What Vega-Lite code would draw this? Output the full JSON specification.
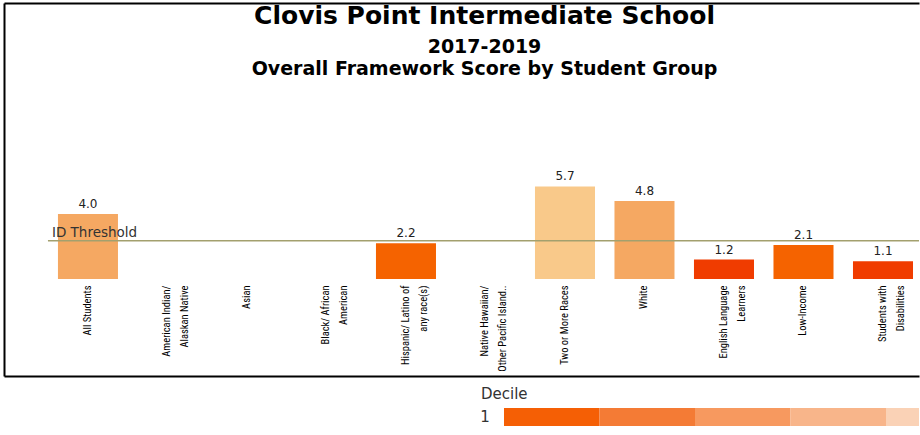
{
  "$schema": "https://vega.github.io/schema/vega-lite/v6.json",
  "padding": {"left": 4, "top": 3, "right": 0, "bottom": 0},
  "spacing": 11,
  "resolve": {"scale": {"color": "independent"}},
  "config": {
    "view": {"stroke": null},
    "font": "DejaVu Sans"
  },
  "vconcat": [
    {
      "width": 915,
      "height": 373,
      "title": {
        "text": "Clovis Point Intermediate School",
        "subtitle": ["2017-2019", "Overall Framework Score by Student Group"],
        "anchor": "middle",
        "frame": "group",
        "dx": 23,
        "offset": -76,
        "font": "DejaVu Sans",
        "fontSize": 25,
        "fontWeight": "bold",
        "color": "#000000",
        "subtitleFont": "DejaVu Sans",
        "subtitleFontSize": 19,
        "subtitleFontWeight": "bold",
        "subtitleColor": "#000000",
        "subtitleLineHeight": 22,
        "subtitlePadding": 9
      },
      "data": {
        "values": [
          {"group": "All Students", "score": 4.0, "band": "4"},
          {"group": "American Indian/ Alaskan Native", "score": null, "band": null},
          {"group": "Asian", "score": null, "band": null},
          {"group": "Black/ African American", "score": null, "band": null},
          {"group": "Hispanic/ Latino of any race(s)", "score": 2.2, "band": "2"},
          {"group": "Native Hawaiian/ Other Pacific Islander", "score": null, "band": null},
          {"group": "Two or More Races", "score": 5.7, "band": "5"},
          {"group": "White", "score": 4.8, "band": "4"},
          {"group": "English Language Learners", "score": 1.2, "band": "1"},
          {"group": "Low-Income", "score": 2.1, "band": "2"},
          {"group": "Students with Disabilities", "score": 1.1, "band": "1"}
        ]
      },
      "resolve": {"axis": {"x": "independent", "y": "independent"}},
      "layer": [
        {
          "transform": [{"filter": "isValid(datum.score)"}],
          "mark": {"type": "bar"},
          "encoding": {
            "x": {
              "field": "group",
              "type": "nominal",
              "scale": {
                "domain": ["All Students", "American Indian/ Alaskan Native", "Asian", "Black/ African American", "Hispanic/ Latino of any race(s)", "Native Hawaiian/ Other Pacific Islander", "Two or More Races", "White", "English Language Learners", "Low-Income", "Students with Disabilities"],
                "paddingInner": 0.245,
                "paddingOuter": 0.377,
                "align": 0.9
              },
              "axis": {
                "orient": "bottom",
                "offset": -93,
                "title": null,
                "domain": false,
                "ticks": false,
                "tickSize": 0,
                "labelPadding": 2,
                "labelAngle": -90,
                "labelAlign": "right",
                "labelBaseline": "middle",
                "labelFont": "Roboto Condensed, Liberation Sans Narrow, Lato, sans-serif",
                "labelFontSize": 10.5,
                "labelLineHeight": 18,
                "labelColor": "#000000",
                "labelLimit": 200,
                "labelExpr": "datum.label == 'American Indian/ Alaskan Native' ? ['American Indian/', 'Alaskan Native'] : datum.label == 'Black/ African American' ? ['Black/ African', 'American'] : datum.label == 'Hispanic/ Latino of any race(s)' ? ['Hispanic/ Latino of', 'any race(s)'] : datum.label == 'Native Hawaiian/ Other Pacific Islander' ? ['Native Hawaiian/', 'Other Pacific Island..'] : datum.label == 'English Language Learners' ? ['English Language', 'Learners'] : datum.label == 'Students with Disabilities' ? ['Students with', 'Disabilities'] : datum.label"
              }
            },
            "y": {
              "field": "score",
              "type": "quantitative",
              "scale": {"domain": [-5.969, 16.985], "nice": false, "zero": false},
              "axis": {
                "orient": "left",
                "title": null,
                "labels": false,
                "ticks": false,
                "grid": false,
                "domain": true,
                "domainColor": "#000000",
                "domainWidth": 2
              }
            },
            "y2": {"datum": 0},
            "color": {
              "field": "band",
              "type": "nominal",
              "scale": {"domain": ["1", "2", "4", "5"], "range": ["#F03C00", "#F56300", "#F5A862", "#F9C98A"]},
              "legend": null
            }
          }
        },
        {
          "data": {"values": [{"threshold": 2.35, "first": "All Students", "last": "Students with Disabilities", "label": "ID Threshold"}]},
          "mark": {"type": "rule", "color": "#A3A06E", "strokeWidth": 1.5, "xOffset": -10, "x2Offset": 6},
          "encoding": {
            "x": {
              "field": "first",
              "type": "nominal",
              "bandPosition": 0,
              "axis": {
                "orient": "top",
                "title": null,
                "labels": false,
                "ticks": false,
                "domain": true,
                "domainColor": "#000000",
                "domainWidth": 2
              }
            },
            "x2": {"field": "last", "bandPosition": 1},
            "y": {"field": "threshold", "type": "quantitative", "axis": null}
          }
        },
        {
          "data": {"values": [{"threshold": 2.35, "first": "All Students", "label": "ID Threshold"}]},
          "mark": {"type": "text", "align": "left", "baseline": "bottom", "dx": -6, "dy": -1, "fontSize": 13.5, "font": "DejaVu Sans", "color": "#333333"},
          "encoding": {
            "x": {"field": "first", "type": "nominal", "bandPosition": 0, "axis": null},
            "y": {"field": "threshold", "type": "quantitative", "axis": null},
            "text": {"field": "label"}
          }
        },
        {
          "transform": [{"filter": "isValid(datum.score)"}],
          "mark": {"type": "text", "baseline": "bottom", "dy": -3, "fontSize": 12, "font": "DejaVu Sans", "color": "#222222"},
          "encoding": {
            "x": {
              "field": "group",
              "type": "nominal",
              "axis": {
                "orient": "bottom",
                "title": null,
                "labels": false,
                "ticks": false,
                "domain": true,
                "domainColor": "#000000",
                "domainWidth": 2
              }
            },
            "y": {"field": "score", "type": "quantitative", "axis": null},
            "text": {"field": "score", "type": "quantitative", "format": ".1f"}
          }
        }
      ]
    },
    {
      "width": 915,
      "height": 18,
      "title": {
        "text": "Decile",
        "anchor": "start",
        "frame": "group",
        "dx": 477,
        "offset": 6,
        "font": "DejaVu Sans",
        "fontSize": 15,
        "fontWeight": "normal",
        "color": "#333333"
      },
      "data": {"values": [{"decile": 1}, {"decile": 2}, {"decile": 3}, {"decile": 4}, {"decile": 5}]},
      "layer": [
        {
          "mark": {"type": "rect", "width": 95.5, "clip": true},
          "encoding": {
            "x": {"field": "decile", "type": "quantitative", "scale": {"domain": [-4.7356, 4.8456], "nice": false, "zero": false}, "axis": null},
            "color": {
              "field": "decile",
              "type": "ordinal",
              "scale": {"domain": [1, 2, 3, 4, 5], "range": ["#F55F05", "#F47B35", "#F7995F", "#F8B58A", "#FAD2B6"]},
              "legend": null
            }
          }
        },
        {
          "transform": [{"filter": "datum.decile == 1"}],
          "mark": {"type": "text", "align": "right", "baseline": "middle", "dx": -62, "fontSize": 15, "font": "DejaVu Sans", "color": "#333333"},
          "encoding": {
            "x": {"field": "decile", "type": "quantitative", "axis": null},
            "text": {"field": "decile", "type": "quantitative"}
          }
        }
      ]
    }
  ]
}
